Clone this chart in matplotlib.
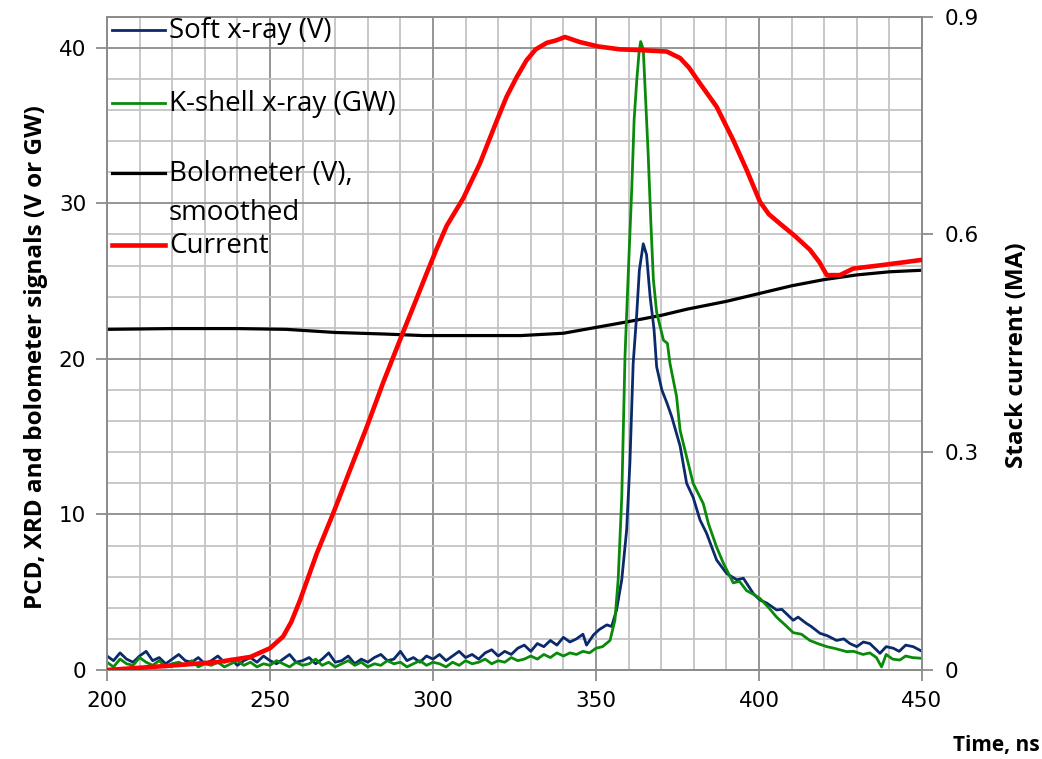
import numpy as np
import matplotlib
matplotlib.use("Agg")
import matplotlib.pyplot as plt
from matplotlib.lines import Line2D
from matplotlib.ticker import MultipleLocator

# ---------------- data ----------------
# Soft x-ray (V): baseline sampled every 2 ns from 200 to 344 ns
soft_base_vals = [0.9, 0.6, 1.1, 0.7, 0.5, 0.9, 1.2, 0.6, 0.8, 0.4,
                  0.7, 1.0, 0.6, 0.5, 0.8, 0.4, 0.6, 0.9, 0.5, 0.7,
                  0.3, 0.6, 0.8, 0.5, 0.9, 0.6, 0.4, 0.7, 1.0, 0.5,
                  0.6, 0.8, 0.4, 0.7, 1.1, 0.5, 0.6, 0.9, 0.4, 0.7,
                  0.5, 0.8, 1.0, 0.6, 0.7, 1.2, 0.6, 0.8, 0.5, 0.9,
                  0.7, 1.0, 0.6, 0.9, 1.2, 0.8, 1.0, 0.7, 1.1, 1.3,
                  0.9, 1.2, 1.0, 1.4, 1.6, 1.2, 1.7, 1.5, 1.9, 1.6,
                  2.1, 1.8, 2.0]
soft_base_t = list(range(200, 346, 2))
soft_peak_t = [346, 347.1, 349.2, 351, 353.3, 354.8, 356.3, 357.9, 359.4, 360.4,
               361.4, 362.5, 363.3, 364.5, 365.5, 366.6, 367.8, 368.6, 370.2, 371.7,
               373.2, 375.8, 377.8, 379.8, 381.9, 383.9, 387.0, 390.1, 393.2, 395.2,
               398.3, 400.3, 402.4, 405.4, 407, 410.5, 412, 414.5, 416, 418.7,
               421, 423.8, 426, 427.9, 430, 432, 434, 436, 437.1, 439,
               441.2, 443, 445, 447.3, 450]
soft_peak_vals = [2.3, 1.6, 2.25, 2.6, 2.9, 2.8, 3.86, 5.8, 9.0, 13.3,
                  19.7, 22.9, 25.7, 27.4, 26.7, 24.0, 21.9, 19.5, 18.0, 17.2,
                  16.3, 14.4, 12.0, 11.1, 9.65, 8.8, 7.07, 6.2, 5.8, 5.9,
                  4.9, 4.5, 4.3, 3.86, 3.9, 3.2, 3.4, 3.0, 2.8, 2.36,
                  2.2, 1.9, 2.0, 1.7, 1.5, 1.8, 1.7, 1.3, 1.07, 1.5,
                  1.4, 1.2, 1.6, 1.5, 1.2]

# K-shell x-ray (GW): baseline every 2 ns from 200 to 350 ns
kshell_base_vals = [0.5, 0.2, 0.7, 0.4, 0.3, 0.8, 0.5, 0.3, 0.6, 0.2,
                    0.4, 0.5, 0.3, 0.6, 0.2, 0.4, 0.3, 0.5, 0.2, 0.4,
                    0.6, 0.3, 0.5, 0.2, 0.4, 0.3, 0.6, 0.4, 0.2, 0.5,
                    0.3, 0.4, 0.7, 0.3, 0.5, 0.2, 0.4, 0.6, 0.3, 0.5,
                    0.2, 0.4, 0.3, 0.6, 0.4, 0.5, 0.2, 0.4, 0.6, 0.3,
                    0.5, 0.4, 0.2, 0.5, 0.3, 0.6, 0.4, 0.5, 0.7, 0.4,
                    0.6, 0.5, 0.8, 0.6, 0.7, 0.9, 0.7, 1.0, 0.8, 1.1,
                    0.9, 1.1, 1.0, 1.2, 1.1, 1.4]
kshell_base_t = list(range(200, 352, 2))
kshell_peak_t = [352, 354.3, 355.8, 356.8, 357.9, 358.9, 359.9, 361.0, 361.7, 362.5,
                 363.2, 363.7, 364.5, 365.3, 366.0, 366.8, 367.6, 368.6, 370.7, 371.9,
                 372.7, 374.7, 375.8, 377.8, 379.8, 382.9, 384.5, 387.0, 389.0, 392.1,
                 394, 396.2, 398, 400.3, 403, 405.4, 408, 410.5, 413, 415.6,
                 418, 420.8, 423, 426.9, 429, 431.9, 434, 436, 437.6, 439,
                 441, 443.2, 445, 447, 450]
kshell_peak_vals = [1.5, 1.9, 3.2, 5.8, 11.1, 20.2, 25.5, 31.1, 35.4, 37.9,
                    39.7, 40.4, 39.9, 36.4, 33.2, 28.9, 25.1, 23.0, 21.2, 21.0,
                    19.7, 17.6, 15.4, 13.7, 12.0, 10.7, 9.4, 7.9, 6.9, 5.6,
                    5.7, 5.1, 4.9, 4.6, 4.0, 3.4, 2.9, 2.4, 2.3, 1.9,
                    1.7, 1.5, 1.4, 1.18, 1.2, 1.0, 1.1, 0.8, 0.2, 1.0,
                    0.7, 0.64, 0.9, 0.8, 0.75]

# Bolometer (V), smoothed
bolo_t = [200, 220, 240, 255, 270, 285, 297, 310, 327, 340, 348, 360, 370, 378,
          390, 402, 410, 420, 430, 440, 450]
bolo_vals = [21.9, 21.95, 21.95, 21.9, 21.7, 21.6, 21.5, 21.5, 21.5, 21.65, 21.95,
             22.4, 22.8, 23.2, 23.7, 24.3, 24.7, 25.1, 25.4, 25.6, 25.7]

# Stack current (MA)
cur_t = [200, 218, 234, 244, 250, 254, 256.5, 259.2, 264.3, 269.4, 274.5, 279.7,
         284.8, 289.9, 295.0, 298.1, 301.1, 304.2, 309.3, 314.4, 319.5, 322.6,
         325.7, 328.7, 331.5, 334.9, 337.5, 340.5, 345.1, 350.7, 357.4, 363.5,
         371.7, 375.8, 378.5, 381.9, 387.0, 392.1, 396.2, 400.3, 403, 406.4,
         411, 415.6, 418.5, 420.8, 424.8, 428.9, 438.1, 450]
cur_vals = [0, 0.0055, 0.011, 0.018, 0.030, 0.046, 0.066, 0.096, 0.160, 0.216,
            0.275, 0.335, 0.397, 0.455, 0.512, 0.547, 0.580, 0.612, 0.650, 0.698,
            0.756, 0.790, 0.817, 0.840, 0.855, 0.864, 0.867, 0.872, 0.865, 0.859,
            0.855, 0.854, 0.852, 0.843, 0.830, 0.808, 0.776, 0.730, 0.689, 0.645,
            0.628, 0.615, 0.598, 0.579, 0.562, 0.544, 0.544, 0.553, 0.558, 0.565]

x_ticks = [200, 250, 300, 350, 400, 450]
left_ticks = [0, 10, 20, 30, 40]
right_ticks = [0, 0.3, 0.6, 0.9]
right_tick_labels = ["0", "0.3", "0.6", "0.9"]

labels = ["Soft x-ray (V)", "K-shell x-ray (GW)", "Bolometer (V),", "Current"]
label_extra = "smoothed"

# ---------------- styling ----------------
NAVY = "#0b2a6b"
GREEN = "#0a8a0a"
RED = "#ff0000"
GRID_MAJ = "#8c8c8c"
GRID_MIN = "#c4c4c4"
TXT = "Open Sans"

soft_t = soft_base_t + soft_peak_t
soft_v = soft_base_vals + soft_peak_vals
k_t = kshell_base_t + kshell_peak_t
k_v = kshell_base_vals + kshell_peak_vals

fig = plt.figure(figsize=(10.42, 7.59), dpi=100)
ax = fig.add_axes([107/1042, 1-670/759, 815/1042, (670-16.7)/759])
ax2 = ax.twinx()

ax.set_xlim(200, 450)
ax.set_ylim(0, 42)
ax2.set_ylim(0, 0.9)

ax.xaxis.set_minor_locator(MultipleLocator(10))
ax.yaxis.set_minor_locator(MultipleLocator(2))
ax.set_xticks(x_ticks)
ax.set_yticks(left_ticks)
ax2.set_yticks(right_ticks)
ax2.set_yticklabels(right_tick_labels)

ax.grid(True, which="minor", color=GRID_MIN, lw=1.3, zorder=0)
ax.grid(True, which="major", color=GRID_MAJ, lw=1.3, zorder=0)
ax.set_axisbelow(True)

for a in (ax, ax2):
    for s in a.spines.values():
        s.set_color(GRID_MAJ)
        s.set_linewidth(1.3)
ax.tick_params(axis="both", which="major", direction="out", length=8, width=1.3,
               color=GRID_MAJ, labelsize=15.5, labelcolor="black", pad=7)
ax.tick_params(axis="both", which="minor", length=0)
ax2.tick_params(axis="y", which="major", direction="out", length=8, width=1.3,
                color=GRID_MAJ, labelsize=15.5, labelcolor="black", pad=8)

ax.plot(bolo_t, bolo_vals, color="black", lw=2.3, zorder=3)
ax.plot(soft_t, soft_v, color=NAVY, lw=2.0, zorder=4)
ax.plot(k_t, k_v, color=GREEN, lw=2.0, zorder=5)
ax2.plot(cur_t, cur_vals, color=RED, lw=3.3, zorder=6)

ax.set_ylabel("PCD, XRD and bolometer signals (V or GW)", fontsize=17.5,
              fontweight="bold", family=TXT)
ax.yaxis.set_label_coords(-0.072, 0.479)
ax2.set_ylabel("Stack current (MA)", fontsize=17.5, fontweight="bold", family=TXT)
ax2.yaxis.set_label_coords(1.102, 0.482)
fig.text(1040/1042, 1-745/759, "Time, ns", ha="right", va="center",
         fontsize=15, fontweight="bold", family=TXT)

# manual legend (axes fraction coords)
def fx(px):
    return (px - 107) / 815
def fy(py):
    return (670 - py) / 653.3

leg = [(30, NAVY, 2.0), (103, GREEN, 2.0), (173, "black", 2.3), (245, RED, 3.3)]
for (py, col, lw), lab in zip(leg, labels):
    ax2.add_line(Line2D([fx(112), fx(165)], [fy(py), fy(py)], color=col, lw=lw,
                        transform=ax2.transAxes, zorder=10))
    ax2.text(fx(169), fy(py + 1), lab, transform=ax2.transAxes, ha="left",
             va="center", fontsize=20, family=TXT, zorder=10)
ax2.text(fx(169), fy(213), label_extra, transform=ax2.transAxes, ha="left",
         va="center", fontsize=20, family=TXT, zorder=10)

fig.savefig("out.png", dpi=100, facecolor="white")
